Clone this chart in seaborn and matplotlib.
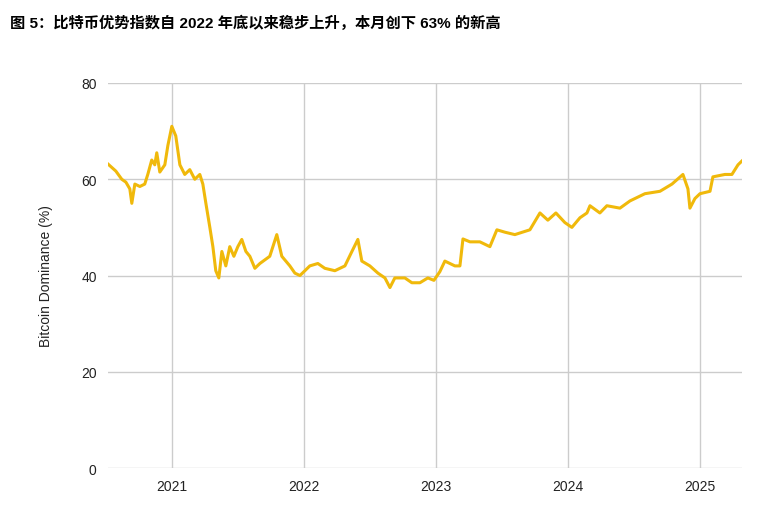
import numpy as np
import pandas as pd
import matplotlib
matplotlib.use('Agg')
import matplotlib.pyplot as plt
import seaborn as sns

plt.rcParams['font.family'] = ['Liberation Sans', 'Noto Sans CJK SC']
plt.rcParams['axes.unicode_minus'] = False

# Decimal years and dominance values
years = [2020.515, 2020.576, 2020.621, 2020.652, 2020.682, 2020.697, 2020.720, 2020.758,
         2020.795, 2020.818, 2020.848, 2020.871, 2020.886, 2020.909, 2020.947, 2020.970,
         2021.000, 2021.030, 2021.061, 2021.098, 2021.136, 2021.174, 2021.212, 2021.235,
         2021.258, 2021.288, 2021.311, 2021.333, 2021.356, 2021.379, 2021.409, 2021.439,
         2021.470, 2021.500, 2021.530, 2021.561, 2021.591, 2021.629, 2021.667, 2021.742,
         2021.795, 2021.833, 2021.894, 2021.932, 2021.970, 2022.008, 2022.045, 2022.106,
         2022.159, 2022.235, 2022.311, 2022.364, 2022.409, 2022.439, 2022.500, 2022.561,
         2022.614, 2022.652, 2022.689, 2022.765, 2022.818, 2022.879, 2022.939, 2022.985,
         2023.030, 2023.068, 2023.144, 2023.182, 2023.205, 2023.258, 2023.333, 2023.409,
         2023.462, 2023.523, 2023.598, 2023.712, 2023.788, 2023.848, 2023.909, 2023.977,
         2024.030, 2024.091, 2024.144, 2024.167, 2024.242, 2024.295, 2024.394, 2024.470,
         2024.583, 2024.697, 2024.788, 2024.871, 2024.909, 2024.924, 2024.962, 2025.000,
         2025.076, 2025.098, 2025.189, 2025.242, 2025.288, 2025.318]
dominance = [63.2, 61.7, 60.0, 59.4, 58.0, 55.0, 59.0, 58.5,
             59.0, 61.0, 64.0, 63.0, 65.5, 61.5, 63.0, 67.0,
             71.0, 69.0, 63.0, 61.0, 62.0, 60.0, 61.0, 59.0,
             55.0, 50.0, 46.0, 41.0, 39.5, 45.0, 42.0, 46.0,
             44.0, 46.0, 47.5, 45.0, 44.0, 41.5, 42.5, 44.0,
             48.5, 44.0, 42.0, 40.5, 40.0, 41.0, 42.0, 42.5,
             41.5, 41.0, 42.0, 45.0, 47.5, 43.0, 42.0, 40.5,
             39.5, 37.5, 39.5, 39.5, 38.5, 38.5, 39.5, 39.0,
             40.8, 43.0, 42.0, 42.0, 47.6, 47.0, 47.0, 46.0,
             49.5, 49.0, 48.5, 49.5, 53.0, 51.5, 53.0, 51.0,
             50.0, 52.0, 53.0, 54.5, 53.0, 54.5, 54.0, 55.5,
             57.0, 57.5, 59.0, 61.0, 58.0, 54.0, 56.0, 57.0,
             57.5, 60.5, 61.0, 61.0, 63.0, 63.8]
df = pd.DataFrame({'year': years, 'dominance': dominance})
tick_years = [2021, 2022, 2023, 2024, 2025]

fig = plt.figure(figsize=(7.81, 5.06), dpi=100)
ax = fig.add_axes([0.138, 0.073, 0.812, 0.761])
sns.lineplot(data=df, x='year', y='dominance', color='#F0B90B', linewidth=2.2, ax=ax)

ax.set_xlim(2020.515, 2025.318)
ax.set_ylim(0, 80)
ax.set_xticks(tick_years)
ax.set_xticklabels([str(y) for y in tick_years])
ax.set_yticks([0, 20, 40, 60, 80])
ax.grid(True, color='#cccccc', linewidth=1)
ax.set_axisbelow(True)
for s in ax.spines.values():
    s.set_visible(False)
ax.tick_params(length=0, labelsize=10, colors='#222222', pad=8)
ax.set_xlabel('')
ax.set_ylabel('Bitcoin Dominance (%)', fontsize=10, color='#222222', labelpad=20)

fig.text(0.013, 0.955, '图 5：比特币优势指数自 2022 年底以来稳步上升，本月创下 63% 的新高',
         fontsize=11, fontweight='bold', ha='left', va='center')

fig.savefig('out.png', dpi=100)
